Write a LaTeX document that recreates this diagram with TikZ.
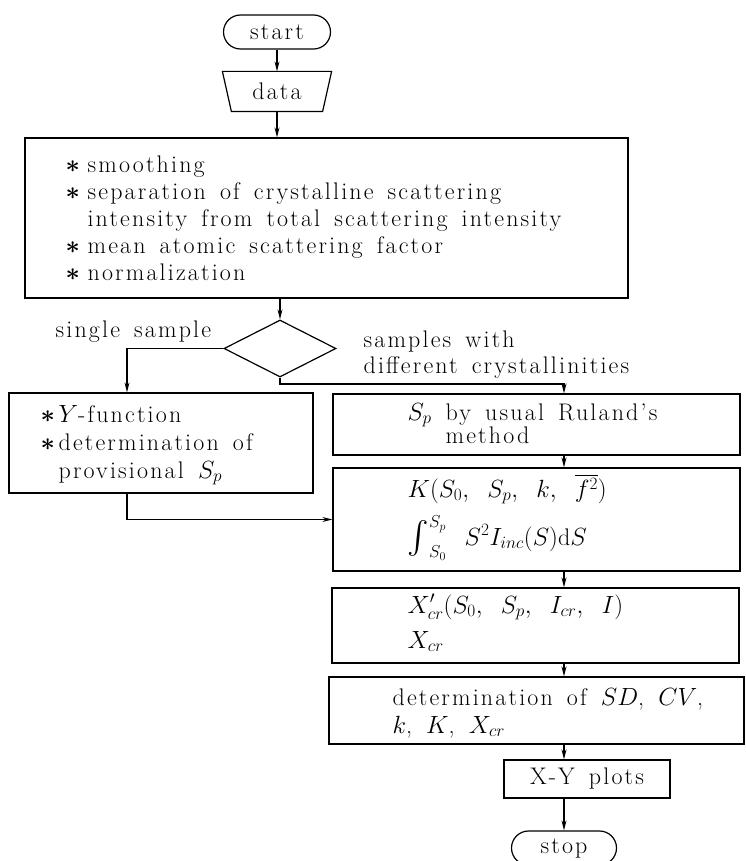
\documentclass[tikz,border=0pt]{standalone}
\usepackage{amsmath}
\usepackage{fontspec}
\setmainfont{Latin Modern Roman}[LetterSpace=9, WordSpace=1.5]
\usetikzlibrary{arrows.meta,shapes.geometric,shapes.misc}
\newcommand{\bst}{\makebox[22pt][l]{$\boldsymbol{\ast}$}}
\newcommand{\lst}{\makebox[18pt][l]{$\boldsymbol{\ast}$}}
\newcommand{\bigint}{\mathop{\vcenter{\hbox{\scalebox{1.3}{$\int$}}}}\nolimits}
\begin{document}
\begin{tikzpicture}[x=1pt,y=-1pt,
  font=\fontsize{24}{28}\selectfont,
  line width=1.2pt,
  box/.style 2 args={draw, rectangle, minimum width=#1, minimum height=#2, inner sep=0pt},
  term/.style={draw, rounded rectangle, minimum width=107pt, minimum height=34pt, inner sep=0pt},
  txt/.style={inner sep=0pt, anchor=base west},
  arr/.style={-{Stealth[length=10pt,width=5pt]}}]
\useasboundingbox (0,0) rectangle (745,861);

% terminals and shapes
\node[term] (start) at (277,32) {start};
\node[inner sep=0pt, minimum width=108pt, minimum height=39pt] (data) at (277,91.5) {data};
\draw (data.north west) -- (data.north east) -- ([xshift=-9pt]data.south east) -- ([xshift=9pt]data.south west) -- cycle;

\node[box={603pt}{160pt}] (big) at (326.5,218) {};
\node[txt] (big1) at (65,173) {\bst smoothing};
\node[txt] (big2) at (65,199.5) {\bst separation of crystalline scattering};
\node[txt] (big3) at (87,226) {intensity from total scattering intensity};
\node[txt] (big4) at (65,253) {\bst mean atomic scattering factor};
\node[txt] (big5) at (65,280) {\bst normalization};

\node[draw, diamond, minimum width=112pt, minimum height=57pt, inner sep=0pt] (dia) at (280,348.5) {};
\node[txt] (single) at (55,337) {single sample};
\node[txt] (multi1) at (363,347) {samples with};
\node[txt] (multi2) at (363,373) {different crystallinities};

\node[box={304pt}{100pt}] (lbox) at (161,443) {};
\node[txt] (l1) at (40,422) {\lst$Y$-function};
\node[txt] (l2) at (40,450) {\lst determination of};
\node[txt] (l3) at (58,478) {provisional $S_p$};

\node[box={407pt}{61pt}] (b1) at (536.5,424.5) {};
\node[txt] (b1a) at (407,420) {$S_p$ by usual Ruland’s};
\node[txt] (b1b) at (445,443) {method};

\node[box={407pt}{103pt}] (b2) at (536.5,519.5) {};
\node[txt] (b2a) at (407,497) {$K(S_0,\ S_p,\ k,\ \overline{f^2})$};
\node[txt] (b2b) at (407,545) {$\bigint_{S_0}^{S_p}\ S^2I_{inc}(S)\mathrm{d}S$};

\node[box={407pt}{75pt}] (b3) at (535.5,625.5) {};
\node[txt] (b3a) at (407,613) {$X'_{cr}(S_0,\ S_p,\ I_{cr},\ I)$};
\node[txt] (b3b) at (407,648) {$X_{cr}$};

\node[box={415pt}{67pt}] (b4) at (536.5,710.5) {};
\node[txt] (b4a) at (392,705) {determination of $SD$, $CV$,};
\node[txt] (b4b) at (392,733) {$k$, $K$, $X_{cr}$};

\node[box={166pt}{38pt}] (xy) at (587,779) {X-Y plots};
\node[term, minimum width=105pt] (stop) at (564,848) {stop};

% helper coordinates
\coordinate (lx) at (127,0);
\coordinate (rx) at (564,0);
\coordinate (ty) at (0,384);

% connectors
\draw[arr] (start.south) -- (start.south |- data.north);
\draw[arr] (data.south) -- (data.south |- big.north);
\draw[arr] (dia.north |- big.south) -- (dia.north);
\draw[arr] (dia.west) -| (lx |- lbox.north);
\draw[arr] (dia.south) -- (dia.south |- ty) -- (rx |- ty) -- (rx |- b1.north);
\draw[arr] (lx |- lbox.south) |- (b2.west);
\draw[arr] (rx |- b1.south) -- (rx |- b2.north);
\draw[arr] (rx |- b2.south) -- (rx |- b3.north);
\draw[arr] (rx |- b3.south) -- (rx |- b4.north);
\draw[arr] (rx |- b4.south) -- (rx |- xy.north);
\draw[arr] (rx |- xy.south) -- (stop.north);
\end{tikzpicture}
\end{document}
